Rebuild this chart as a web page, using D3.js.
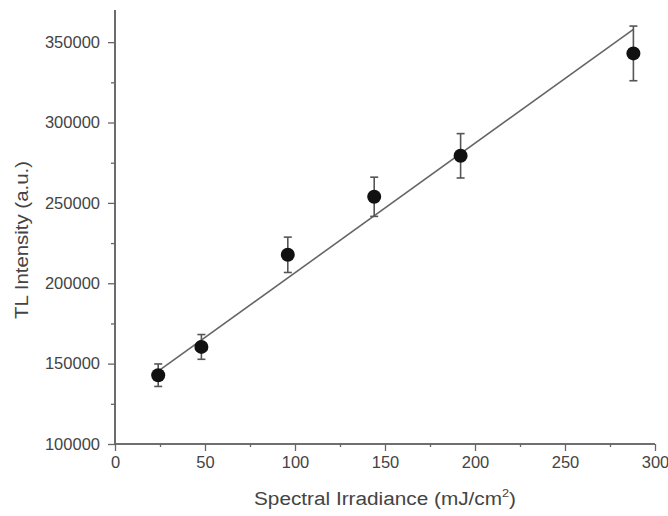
<!DOCTYPE html>
<html>
<head>
<meta charset="utf-8">
<script src="https://cdn.jsdelivr.net/npm/d3@7"></script>
<style>
  body { margin: 0; background: #fff; }
  text { font-family: "Liberation Sans", Arial, sans-serif; fill: #444; }
</style>
</head>
<body>
<div id="svg-container"></div>
<script>
// data
const irradiance = [24, 48, 96, 144, 192, 288];
const intensity = [142800, 160400, 217700, 253800, 279300, 343000];
const errors = [7000, 7700, 11000, 12200, 13800, 17000];
// fitted line endpoints
const fitX = [24, 288];
const fitY = [145300, 358000];
const xTicks = [0, 50, 100, 150, 200, 250, 300];
const yTicks = [100000, 150000, 200000, 250000, 300000, 350000];

const width = 668, height = 516;
const margin = { top: 10, right: 13, bottom: 72, left: 115 };

const svg = d3.select("#svg-container").append("svg")
  .attr("width", width).attr("height", height);

const xScale = d3.scaleLinear().domain([0, 300]).range([margin.left, width - margin.right]);
const yScale = d3.scaleLinear().domain([100000, 370000]).range([height - margin.bottom, margin.top]);

const axisColor = "#666";

// x axis (major + minor)
const xAxis = d3.axisBottom(xScale).tickValues(xTicks).tickSize(7).tickPadding(5).tickFormat(d3.format("d"));
const gx = svg.append("g").attr("transform", `translate(0,${height - margin.bottom})`).call(xAxis);
gx.append("g").call(d3.axisBottom(xScale).tickValues(d3.range(25, 300, 50)).tickSize(3).tickFormat(""));

// y axis
const yAxis = d3.axisLeft(yScale).tickValues(yTicks).tickSize(7).tickPadding(8).tickFormat(d3.format("d"));
const gy = svg.append("g").attr("transform", `translate(${margin.left},0)`).call(yAxis);
gy.append("g").call(d3.axisLeft(yScale).tickValues(d3.range(125000, 370000, 50000)).tickSize(4).tickFormat(""));

svg.selectAll(".domain").attr("stroke", axisColor).attr("stroke-width", 1.6);
svg.selectAll(".tick line").attr("stroke", axisColor).attr("stroke-width", 1.3);
svg.selectAll(".tick text").style("font-size", "16.5px").attr("fill", "#444");
gx.selectAll(".domain").attr("d", `M${margin.left},0H${width - margin.right}`);
gy.selectAll(".domain").attr("d", `M0,${height - margin.bottom}V${margin.top}`);

// fit line
const line = d3.line().x((d, i) => xScale(fitX[i])).y((d) => yScale(d));
svg.append("path").datum(fitY).attr("d", line)
  .attr("fill", "none").attr("stroke", "#666").attr("stroke-width", 1.6);

// error bars
const pts = irradiance.map((x, i) => ({ x, y: intensity[i], e: errors[i] }));
const eb = svg.append("g").attr("stroke", "#555").attr("stroke-width", 1.6);
eb.selectAll(".bar").data(pts).join("line")
  .attr("x1", (d) => xScale(d.x)).attr("x2", (d) => xScale(d.x))
  .attr("y1", (d) => yScale(d.y - d.e)).attr("y2", (d) => yScale(d.y + d.e));
eb.selectAll(".capT").data(pts).join("line")
  .attr("x1", (d) => xScale(d.x) - 4).attr("x2", (d) => xScale(d.x) + 4)
  .attr("y1", (d) => yScale(d.y + d.e)).attr("y2", (d) => yScale(d.y + d.e));
eb.selectAll(".capB").data(pts).join("line")
  .attr("x1", (d) => xScale(d.x) - 4).attr("x2", (d) => xScale(d.x) + 4)
  .attr("y1", (d) => yScale(d.y - d.e)).attr("y2", (d) => yScale(d.y - d.e));

// points
svg.selectAll("circle").data(pts).join("circle")
  .attr("cx", (d) => xScale(d.x)).attr("cy", (d) => yScale(d.y))
  .attr("r", 7).attr("fill", "#111");

// labels
const xl = svg.append("text").attr("x", 385).attr("y", 505)
  .attr("text-anchor", "middle").style("font-size", "18px")
  .attr("textLength", 262).attr("lengthAdjust", "spacingAndGlyphs");
xl.append("tspan").text("Spectral Irradiance (mJ/cm");
xl.append("tspan").text("2").attr("dy", -8).style("font-size", "11px");
xl.append("tspan").text(")").attr("dy", 8);

svg.append("text")
  .attr("transform", `translate(28,240) rotate(-90)`)
  .attr("text-anchor", "middle").style("font-size", "18px")
  .attr("textLength", 158).attr("lengthAdjust", "spacingAndGlyphs")
  .text("TL Intensity (a.u.)");
</script>
</body>
</html>
